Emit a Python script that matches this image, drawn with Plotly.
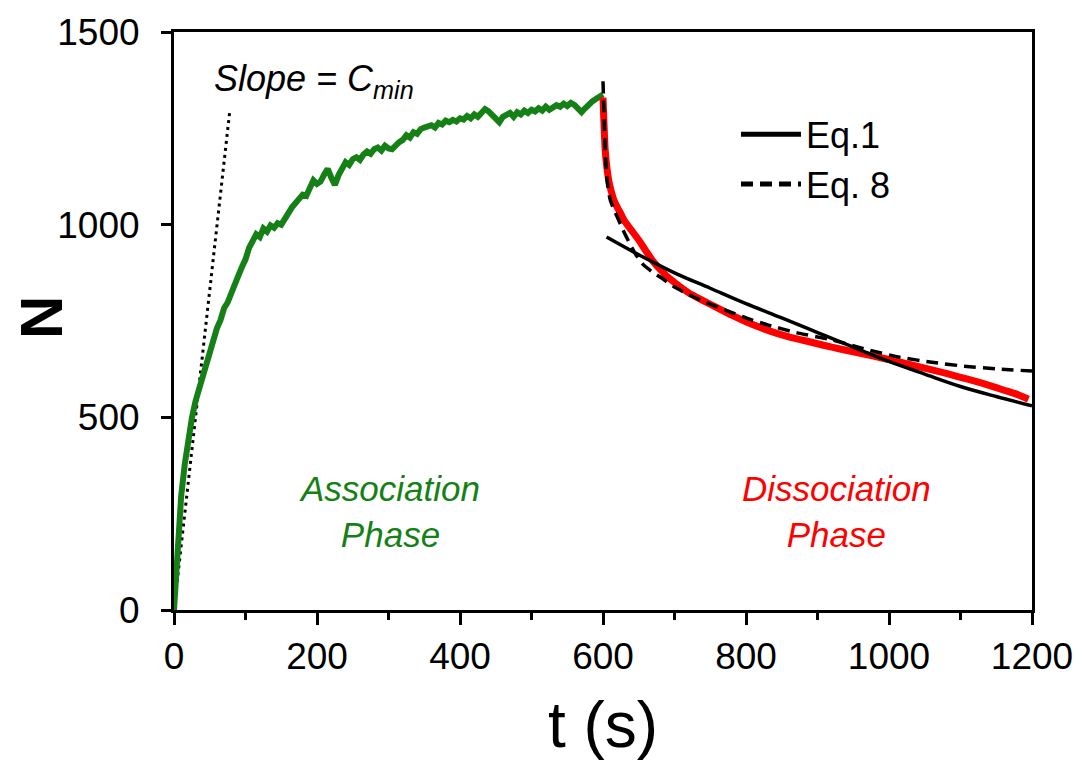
import plotly.graph_objects as go

# ---- data ----
assoc_t = list(range(0, 605, 5))
assoc_n = [0, 170, 295, 378, 446, 498, 541, 572, 612, 643, 672, 700, 731, 752, 783, 798,
           824, 845, 868, 890, 910, 940, 962, 975, 968, 990, 982, 998, 992, 1004, 1000,
           1018, 1030, 1045, 1058, 1068, 1078, 1075, 1095, 1115, 1106, 1112, 1130, 1145,
           1122, 1103, 1128, 1150, 1162, 1155, 1170, 1175, 1168, 1182, 1190, 1184, 1196,
           1200, 1192, 1205, 1198, 1196, 1206, 1214, 1220, 1232, 1226, 1240, 1236, 1248,
           1252, 1256, 1258, 1252, 1264, 1260, 1270, 1266, 1272, 1268, 1276, 1273, 1282,
           1276, 1286, 1280, 1292, 1300, 1294, 1284, 1276, 1266, 1280, 1286, 1290, 1280,
           1292, 1286, 1296, 1290, 1298, 1294, 1302, 1296, 1306, 1298, 1304, 1310, 1306,
           1314, 1308, 1316, 1311, 1300, 1292, 1302, 1312, 1320, 1326, 1330, 1338]

dissoc_t = [600, 601, 602, 603, 605, 608, 611, 615, 620, 625, 630, 640, 650, 660, 670, 680,
            690, 700, 720, 740, 760, 780, 800, 820, 840, 860, 880, 900, 920, 940, 960, 980,
            1000, 1020, 1040, 1060, 1080, 1100, 1120, 1140, 1160, 1180, 1195]
dissoc_n = [1330, 1280, 1235, 1195, 1155, 1115, 1090, 1065, 1045, 1028, 1010, 985, 960, 932,
            905, 884, 865, 850, 823, 803, 784, 765, 748, 733, 720, 709, 700, 691, 682, 674,
            666, 658, 650, 641, 632, 623, 614, 604, 594, 583, 571, 559, 547]

eq1_t = [605, 650, 700, 750, 800, 850, 900, 950, 1000, 1050, 1100, 1150, 1200]
eq1_n = [968, 922, 875, 835, 795, 758, 720, 682, 645, 612, 580, 554, 530]

eq8_t = [600, 601, 602, 603, 604, 606, 610, 615, 620, 627, 633, 645, 656, 670, 680, 700,
         726, 750, 773, 800, 830, 870, 922, 969, 1015, 1060, 1109, 1150, 1200]
eq8_n = [1372, 1310, 1250, 1200, 1160, 1110, 1065, 1040, 1020, 990, 967, 925, 897, 876, 864,
         838, 813, 794, 777, 758, 740, 720, 700, 676, 656, 643, 632, 626, 620]

slope_t = [0, 78]
slope_n = [0, 1295]

x_ticks = [0, 200, 400, 600, 800, 1000, 1200]
y_ticks = [0, 500, 1000, 1500]

FONT = "Liberation Sans, Arial, sans-serif"
GREEN = "#158015"
RED = "#ff0000"

fig = go.Figure()
fig.add_trace(go.Scatter(x=slope_t, y=slope_n, mode="lines",
                         line=dict(color="black", width=3, dash="3px,4px"), showlegend=False))
fig.add_trace(go.Scatter(x=assoc_t, y=assoc_n, mode="lines",
                         line=dict(color=GREEN, width=6), showlegend=False))
fig.add_trace(go.Scatter(x=dissoc_t, y=dissoc_n, mode="lines",
                         line=dict(color=RED, width=7, shape="spline", smoothing=0.6),
                         showlegend=False))
fig.add_trace(go.Scatter(x=eq1_t, y=eq1_n, mode="lines", name="Eq.1", showlegend=False,
                         line=dict(color="black", width=3.5, shape="spline")))
fig.add_trace(go.Scatter(x=eq8_t, y=eq8_n, mode="lines", name="Eq. 8", showlegend=False,
                         line=dict(color="black", width=3.5, dash="12px,7px", shape="spline",
                                   smoothing=0.6)))
# legend entries (thicker samples, as in the reference)
fig.add_trace(go.Scatter(x=[None], y=[None], mode="lines", name="Eq.1",
                         line=dict(color="black", width=5)))
fig.add_trace(go.Scatter(x=[None], y=[None], mode="lines", name="Eq. 8",
                         line=dict(color="black", width=5, dash="12px,7px")))

fig.add_annotation(x=53, y=1372, xref="x", yref="y", xanchor="left", showarrow=False,
                   text="<i>Slope = C<sub>min</sub></i>",
                   font=dict(family=FONT, size=36, color="black"))
fig.add_annotation(x=302, y=256, xref="x", yref="y", showarrow=False,
                   text="<i>Association<br>Phase</i>",
                   font=dict(family=FONT, size=35, color=GREEN))
fig.add_annotation(x=927, y=256, xref="x", yref="y", showarrow=False,
                   text="<i>Dissociation<br>Phase</i>",
                   font=dict(family=FONT, size=35, color=RED))
# y-axis title "N"
fig.add_annotation(x=-0.155, y=0.505, xref="paper", yref="paper", showarrow=False,
                   xanchor="center", yanchor="middle",
                   textangle=-90, text="<b>N</b>",
                   font=dict(family=FONT, size=60, color="black"))

axis_common = dict(showline=True, linewidth=3, linecolor="black", mirror=True,
                   ticks="outside", tickwidth=3, tickcolor="black", showgrid=False,
                   zeroline=False, tickfont=dict(family=FONT, size=37, color="black"))

fig.update_xaxes(range=[0, 1200], tickvals=x_ticks, ticklen=12,
                 minor=dict(dtick=100, tick0=0, ticks="outside", ticklen=7, tickwidth=3,
                            tickcolor="black", showgrid=False),
                 title=dict(text="t (s)", font=dict(family=FONT, size=64, color="black"),
                            standoff=26),
                 **axis_common)
fig.update_yaxes(range=[0, 1500], tickvals=y_ticks, ticklen=10, ticklabelstandoff=14,
                 **axis_common)

fig.update_layout(
    width=1090, height=765,
    margin=dict(l=174, r=58, t=25, b=155),
    plot_bgcolor="white", paper_bgcolor="white",
    font=dict(family=FONT, color="black"),
    legend=dict(x=0.655, y=0.875, xanchor="left", yanchor="top", itemwidth=60,
                bgcolor="rgba(0,0,0,0)", font=dict(family=FONT, size=36, color="black")),
)

fig.write_html("out.html")
